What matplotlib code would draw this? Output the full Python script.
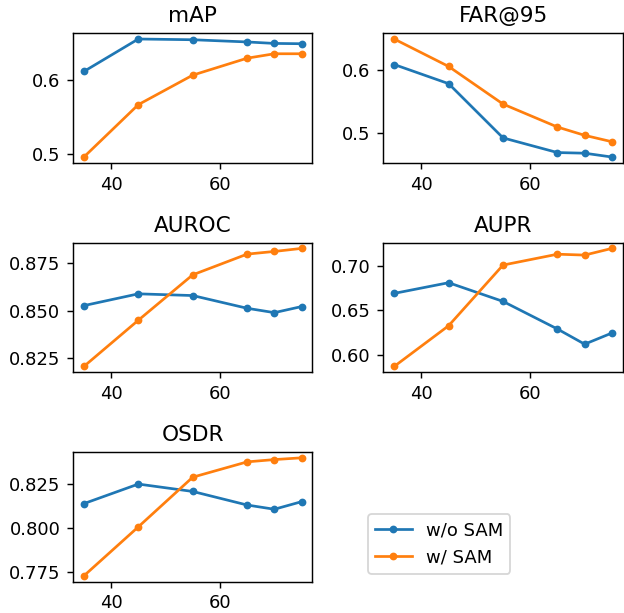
import matplotlib
matplotlib.use("Agg")
import matplotlib.pyplot as plt

x = [35, 45, 55, 65, 70, 75]
titles = ["mAP", "FAR@95", "AUROC", "AUPR", "OSDR"]
wo_sam = {
    "mAP": [0.612, 0.656, 0.655, 0.652, 0.650, 0.6496],
    "FAR@95": [0.608, 0.578, 0.493, 0.470, 0.469, 0.463],
    "AUROC": [0.8526, 0.8588, 0.8579, 0.8512, 0.8489, 0.8521],
    "AUPR": [0.669, 0.681, 0.660, 0.629, 0.612, 0.6245],
    "OSDR": [0.8141, 0.8252, 0.8210, 0.8133, 0.8109, 0.8152],
}
w_sam = {
    "mAP": [0.496, 0.567, 0.607, 0.630, 0.636, 0.636],
    "FAR@95": [0.648, 0.605, 0.546, 0.510, 0.497, 0.487],
    "AUROC": [0.8206, 0.8449, 0.8688, 0.8797, 0.8811, 0.8827],
    "AUPR": [0.587, 0.6327, 0.7008, 0.713, 0.712, 0.7195],
    "OSDR": [0.7731, 0.8009, 0.8291, 0.8378, 0.8391, 0.8401],
}
labels = ["w/o SAM", "w/ SAM"]
xticks = [40, 60]
yticks = {
    "mAP": ([0.5, 0.6], ["0.5", "0.6"]),
    "FAR@95": ([0.5, 0.6], ["0.5", "0.6"]),
    "AUROC": ([0.825, 0.850, 0.875], ["0.825", "0.850", "0.875"]),
    "AUPR": ([0.60, 0.65, 0.70], ["0.60", "0.65", "0.70"]),
    "OSDR": ([0.775, 0.800, 0.825], ["0.775", "0.800", "0.825"]),
}

DPI = 130
fig, axes = plt.subplots(3, 2, figsize=(624 / DPI, 613 / DPI), dpi=DPI)
fig.subplots_adjust(left=0.117, right=0.998, top=0.946, bottom=0.051,
                    wspace=0.296, hspace=0.613)
axs = axes.flatten()
handles = None
for ax, t in zip(axs, titles):
    l1, = ax.plot(x, wo_sam[t], marker='o', markersize=3.3, label=labels[0])
    l2, = ax.plot(x, w_sam[t], marker='o', markersize=3.3, label=labels[1])
    ax.set_title(t)
    ax.set_xticks(xticks)
    ax.set_yticks(yticks[t][0])
    ax.set_yticklabels(yticks[t][1])
    handles = [l1, l2]

axs[5].axis('off')
fig.legend(handles, labels, loc='center', bbox_to_anchor=(0.704, 0.1126))
fig.savefig("out.png", dpi=DPI)
